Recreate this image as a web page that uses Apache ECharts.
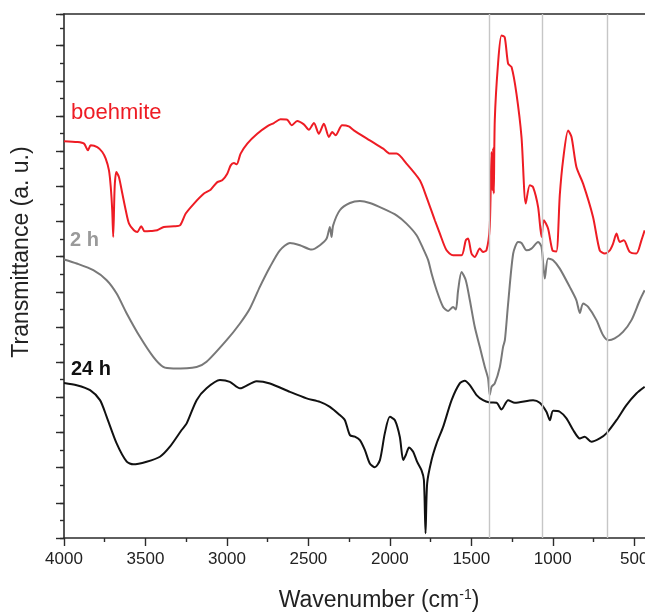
<!DOCTYPE html>
<html>
<head>
<meta charset="utf-8">
<title>FTIR spectra</title>
<script src="https://cdn.jsdelivr.net/npm/echarts@6/dist/echarts.min.js"></script>
<style>
  html, body { margin: 0; padding: 0; background: #fff; }
  #chart { width: 645px; height: 613px; }
</style>
</head>
<body>
<div id="chart"></div>
<script>
// wavenumbers (cm-1) and transmittance (stacked offsets, arbitrary units)
const boehmiteWn = [4000, 3918, 3877, 3853, 3836, 3796, 3765, 3744, 3724, 3713, 3704, 3698, 3689, 3679, 3663, 3642, 3621, 3601, 3571, 3550, 3526, 3505, 3468, 3428, 3387, 3325, 3288, 3253, 3202, 3141, 3100, 3059, 3029, 2998, 2977, 2957, 2940, 2916, 2875, 2814, 2753, 2712, 2671, 2630, 2603, 2569, 2528, 2497, 2466, 2436, 2405, 2374, 2354, 2333, 2293, 2252, 2221, 2123, 2041, 2000, 1959, 1898, 1816, 1775, 1724, 1693, 1652, 1612, 1560, 1534, 1520, 1499, 1479, 1448, 1428, 1407, 1387, 1376, 1371, 1366, 1362, 1356, 1336, 1315, 1295, 1274, 1253, 1223, 1192, 1166, 1141, 1121, 1090, 1069, 1055, 1029, 1002, 978, 957, 937, 906, 885, 855, 814, 753, 712, 681, 650, 630, 609, 589, 564, 528, 487, 456, 436];
const boehmiteT = [22.57, 22.52, 22.43, 22.05, 22.33, 22.23, 21.95, 21.57, 20.91, 19.96, 18.64, 17.12, 19.96, 20.81, 20.53, 19.59, 18.64, 17.88, 17.5, 17.4, 17.73, 17.44, 17.46, 17.5, 17.69, 17.73, 17.78, 18.45, 19.02, 19.59, 19.81, 20.24, 20.34, 20.72, 21.19, 21.32, 21.25, 21.86, 22.43, 22.99, 23.41, 23.6, 23.81, 23.79, 23.47, 23.71, 23.52, 23.22, 23.6, 22.99, 23.56, 22.8, 23.09, 22.9, 23.47, 23.41, 23.18, 22.61, 22.14, 21.86, 21.86, 21.29, 20.34, 19.39, 18.07, 17.31, 16.36, 16.08, 16.08, 16.93, 17.03, 16.18, 15.98, 16.46, 16.27, 16.36, 17.69, 21.95, 19.77, 22.16, 19.59, 23.75, 26.97, 28.58, 28.48, 26.97, 26.78, 25.27, 22.8, 19.02, 20.06, 19.96, 18.82, 17.12, 18.07, 17.6, 16.36, 16.3, 19.5, 21.48, 23.18, 22.8, 21.1, 20.15, 18.26, 16.36, 16.18, 16.36, 16.74, 17.31, 16.84, 16.93, 16.27, 16.18, 16.93, 17.5];

const h2Wn = [4000, 3922, 3820, 3738, 3677, 3615, 3534, 3452, 3391, 3329, 3186, 3125, 3002, 2920, 2859, 2798, 2736, 2675, 2613, 2552, 2480, 2429, 2388, 2368, 2358, 2348, 2307, 2245, 2184, 2123, 2041, 1959, 1898, 1836, 1796, 1765, 1744, 1713, 1673, 1642, 1612, 1595, 1581, 1560, 1534, 1509, 1479, 1448, 1417, 1397, 1387, 1376, 1356, 1325, 1305, 1294, 1274, 1243, 1213, 1192, 1161, 1131, 1090, 1069, 1049, 1029, 998, 957, 896, 855, 834, 814, 783, 732, 691, 660, 620, 569, 517, 466, 436];
const h2T = [15.84, 15.61, 15.23, 14.66, 13.9, 12.77, 11.44, 10.3, 9.73, 9.64, 9.73, 10.02, 11.25, 12.2, 13.05, 14.28, 15.41, 16.36, 16.78, 16.65, 16.4, 16.65, 17.03, 17.69, 17.12, 17.78, 18.64, 19.05, 19.16, 19.05, 18.73, 18.35, 17.88, 17.22, 16.46, 15.8, 15.04, 14.09, 13.14, 12.91, 13.14, 12.99, 14.09, 15.13, 14.66, 13.52, 12.01, 10.87, 9.73, 9.07, 8.13, 8.6, 8.79, 9.73, 10.87, 11.25, 13.34, 16.18, 16.84, 16.78, 16.36, 16.46, 16.84, 16.55, 14.76, 15.89, 15.8, 15.32, 14.28, 13.52, 12.8, 13.34, 13.14, 12.39, 11.53, 11.25, 11.35, 11.72, 12.39, 13.52, 14.09];

const h24Wn = [4000, 3922, 3840, 3779, 3738, 3677, 3615, 3575, 3493, 3411, 3350, 3278, 3247, 3186, 3125, 3043, 2982, 2920, 2818, 2736, 2613, 2511, 2429, 2368, 2307, 2276, 2245, 2215, 2184, 2153, 2123, 2092, 2061, 2031, 2000, 1969, 1939, 1918, 1902, 1882, 1857, 1833, 1806, 1791, 1781, 1771, 1744, 1713, 1673, 1621, 1571, 1540, 1509, 1468, 1428, 1387, 1345, 1315, 1274, 1233, 1121, 1080, 1039, 1018, 998, 957, 916, 875, 834, 804, 763, 712, 671, 609, 548, 487, 436];
const h24T = [8.82, 8.69, 8.41, 7.84, 6.89, 5.38, 4.34, 4.19, 4.34, 4.62, 5.19, 6.14, 6.52, 7.84, 8.51, 8.98, 8.88, 8.51, 8.92, 8.79, 8.31, 7.94, 7.74, 7.46, 6.99, 6.7, 5.85, 5.76, 5.57, 5.0, 4.24, 4.02, 4.43, 5.95, 6.89, 6.7, 5.76, 4.43, 4.72, 5.15, 4.9, 4.34, 3.86, 3.3, 0.27, 3.11, 4.43, 5.38, 6.32, 7.84, 8.79, 8.94, 8.69, 8.13, 7.84, 7.71, 7.69, 7.31, 7.84, 7.69, 7.84, 7.69, 7.18, 6.7, 7.23, 7.18, 6.8, 6.14, 5.66, 5.76, 5.47, 5.66, 5.95, 6.7, 7.56, 8.22, 8.6];

const markerLines = [1391, 1064, 667];
const xLabels = [4000, 3500, 3000, 2500, 2000, 1500, 1000, 500];
const xMinorTicks = [3750, 3250, 2750, 2250, 1750, 1250, 750];

const FONT = 'Arial, "Liberation Sans", sans-serif';
const AXIS_COLOR = '#2b2b2b';

function pairs(wn, t) {
    return wn.map((w, i) => [w, t[i]]);
}

const chart = echarts.init(document.getElementById('chart'));

const option = {
    animation: false,
    backgroundColor: '#fff',
    grid: { left: 64, top: 14, width: 581, height: 524, containLabel: false, outerBoundsMode: 'none' },
    xAxis: [
        {
            type: 'value',
            min: 434,
            max: 4000,
            inverse: true,
            position: 'bottom',
            axisLine: { lineStyle: { color: AXIS_COLOR, width: 1.6 } },
            axisTick: { inside: false, length: 8, customValues: xLabels, lineStyle: { color: AXIS_COLOR, width: 1.4 } },
            axisLabel: {
                customValues: xLabels, color: '#222', fontSize: 17, fontFamily: FONT, margin: 13,
                hideOverlap: false, showMinLabel: true, showMaxLabel: true,
                formatter: v => String(v)
            },
            splitLine: { show: false }
        },
        {
            type: 'value',
            min: 434,
            max: 4000,
            inverse: true,
            position: 'bottom',
            axisLine: { show: false },
            axisTick: { inside: false, length: 4, customValues: xMinorTicks, lineStyle: { color: AXIS_COLOR, width: 1.4 } },
            axisLabel: { show: false },
            splitLine: { show: false }
        },
        {
            type: 'value',
            min: 434,
            max: 4000,
            inverse: true,
            position: 'top',
            axisLine: { lineStyle: { color: AXIS_COLOR, width: 1.6 } },
            axisTick: { show: false },
            axisLabel: { show: false },
            splitLine: { show: false }
        }
    ],
    yAxis: [
        {
            type: 'value',
            min: 0,
            max: 29.8,
            interval: 2,
            axisLine: { show: true, lineStyle: { color: AXIS_COLOR, width: 1.6 } },
            axisTick: { show: true, length: 8, lineStyle: { color: AXIS_COLOR, width: 1.4 } },
            axisLabel: { show: false },
            splitLine: { show: false }
        },
        {
            type: 'value',
            min: 0,
            max: 29.8,
            interval: 1,
            position: 'left',
            axisLine: { show: false },
            axisTick: { show: true, length: 4, lineStyle: { color: AXIS_COLOR, width: 1.4 } },
            axisLabel: { show: false },
            splitLine: { show: false }
        }
    ],
    series: [
        {
            name: '24 h',
            type: 'line',
            data: pairs(h24Wn, h24T),
            showSymbol: false,
            smooth: 0.25,
            lineStyle: { color: '#111', width: 2 },
            markLine: {
                silent: true,
                symbol: 'none',
                label: { show: false },
                lineStyle: { color: '#c6c6c6', width: 1.4, type: 'solid' },
                data: markerLines.map(v => ({ xAxis: v }))
            },
            z: 3
        },
        {
            name: '2 h',
            type: 'line',
            data: pairs(h2Wn, h2T),
            showSymbol: false,
            smooth: 0.25,
            lineStyle: { color: '#787878', width: 2 },
            z: 3
        },
        {
            name: 'boehmite',
            type: 'line',
            data: pairs(boehmiteWn, boehmiteT),
            showSymbol: false,
            smooth: 0.25,
            lineStyle: { color: '#ee1c24', width: 2 },
            z: 3
        }
    ],
    graphic: [
        {
            type: 'text', x: 71, y: 113,
            style: { text: 'boehmite', fill: '#ee1c24', font: '22px ' + FONT, verticalAlign: 'middle' }
        },
        {
            type: 'text', x: 70, y: 240,
            style: { text: '2 h', fill: '#9a9a9a', font: 'bold 20px ' + FONT, verticalAlign: 'middle' }
        },
        {
            type: 'text', x: 71, y: 369,
            style: { text: '24 h', fill: '#111', font: 'bold 20px ' + FONT, verticalAlign: 'middle' }
        },
        {
            type: 'text', x: 22, y: 252, rotation: Math.PI / 2,
            style: {
                text: 'Transmittance (a. u.)', fill: '#222', font: '23px ' + FONT,
                align: 'center', verticalAlign: 'middle'
            }
        },
        {
            type: 'text', x: 379, y: 601,
            style: {
                text: '{n|Wavenumber (cm}{s|-1}{n|)}',
                align: 'center', verticalAlign: 'middle',
                rich: {
                    n: { fill: '#222', font: '23px ' + FONT },
                    s: { fill: '#222', font: '14px ' + FONT, verticalAlign: 'top', padding: [0, 0, 11, 0] }
                }
            }
        }
    ]
};

chart.setOption(option);

window.addEventListener('resize', () => chart.resize());
</script>
</body>
</html>
